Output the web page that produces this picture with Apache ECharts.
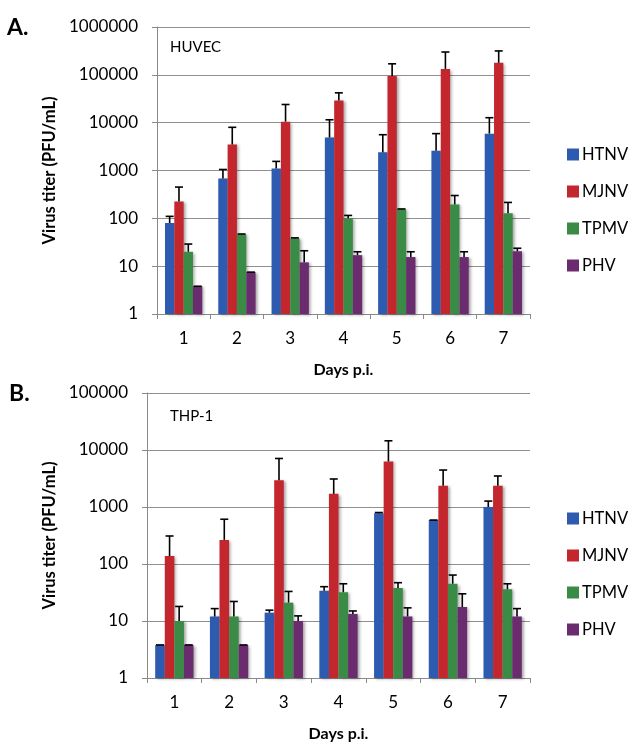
<!DOCTYPE html>
<html>
<head>
<meta charset="utf-8">
<script src="https://cdn.jsdelivr.net/npm/echarts@6/dist/echarts.min.js"></script>
<style>
html,body{margin:0;padding:0;background:#fff;}
#c{width:634px;height:755px;}
</style>
</head>
<body>
<div id="c"></div>
<script>
// ---- data ----
const days = ['1','2','3','4','5','6','7'];
const viruses = ['HTNV','MJNV','TPMV','PHV'];
const colors = ['#2C5BB0','#C4262E','#3A8B45','#6A2C6E'];

// Panel A: HUVEC
const huvecHTNV = [80, 680, 1100, 4900, 2400, 2600, 5900];
const huvecMJNV = [225, 3500, 10500, 29000, 95000, 133000, 178000];
const huvecTPMV = [20, 46, 38, 100, 155, 195, 127];
const huvecPHV  = [3.8, 7.5, 12, 17, 15.5, 15.5, 20.5];
// upper ends of error bars
const huvecHTNVUpper = [110, 1050, 1550, 11500, 5600, 5900, 12700];
const huvecMJNVUpper = [450, 8000, 24000, 42000, 170000, 300000, 316000];
const huvecTPMVUpper = [29, 47, 39, 115, 157, 300, 215];
const huvecPHVUpper  = [3.8, 7.5, 21, 20, 20, 20, 23.7];

// Panel B: THP-1
const thpHTNV = [3.8, 12, 14, 34, 780, 590, 1000];
const thpMJNV = [138, 265, 2950, 1700, 6300, 2350, 2350];
const thpTPMV = [10, 12, 21, 32, 38, 45, 36];
const thpPHV  = [3.8, 3.8, 10, 13.3, 12, 17.6, 12];
const thpHTNVUpper = [3.8, 16.5, 15.5, 40, 800, 590, 1270];
const thpMJNVUpper = [310, 610, 7100, 3100, 14500, 4450, 3500];
const thpTPMVUpper = [18, 22, 33, 45, 47, 64, 45];
const thpPHVUpper  = [3.8, 3.8, 12.3, 15, 17, 30, 16.5];

const panelA = {vals:[huvecHTNV,huvecMJNV,huvecTPMV,huvecPHV], up:[huvecHTNVUpper,huvecMJNVUpper,huvecTPMVUpper,huvecPHVUpper]};
const panelB = {vals:[thpHTNV,thpMJNV,thpTPMV,thpPHV], up:[thpHTNVUpper,thpMJNVUpper,thpTPMVUpper,thpPHVUpper]};

// ---- chart ----
const FONT = 'Lato';
const GAP = 0.30;
const chart = echarts.init(document.getElementById('c'));

function xAxis(gi){
  return {
    type:'category', gridIndex:gi, data:days, boundaryGap:true,
    axisLine:{lineStyle:{color:'#8a8a8a', width:1}},
    axisTick:{show:true, length:5, inside:false, alignWithLabel:false, lineStyle:{color:'#8a8a8a'}},
    axisLabel:{color:'#000', fontSize:17, fontFamily:FONT, margin:16},
    name:'Days p.i.', nameLocation:'middle', nameGap:48,
    nameTextStyle:{color:'#000', fontSize:16, fontWeight:'bold', fontFamily:FONT}
  };
}
function yAxis(gi, maxV, nameGap){
  return {
    type:'log', logBase:10, gridIndex:gi, min:1, max:maxV,
    axisLine:{show:true, lineStyle:{color:'#8a8a8a', width:1}},
    axisTick:{show:true, length:5, lineStyle:{color:'#8a8a8a'}},
    splitLine:{show:true, lineStyle:{color:'#8f8f8f', width:1}},
    axisLabel:{color:'#000', fontSize:17, fontFamily:FONT, margin:19,
      formatter:v=>String(Math.round(v))},
    name:'Virus titer (PFU/mL)', nameLocation:'middle', nameGap:nameGap, nameRotate:90,
    nameTextStyle:{color:'#000', fontSize:16.5, fontWeight:'bold', fontFamily:FONT}
  };
}

const series = [];
[panelA, panelB].forEach((p, gi)=>{
  viruses.forEach((v, i)=>{
    series.push({
      type:'bar', name:v, xAxisIndex:gi, yAxisIndex:gi,
      data:p.vals[i], barGap:'0%', barCategoryGap:(GAP*100)+'%',
      itemStyle:{color:colors[i], shadowBlur:3, shadowOffsetX:2, shadowOffsetY:1, shadowColor:'rgba(0,0,0,0.35)'},
      z:2
    });
  });
  viruses.forEach((v, i)=>{
    series.push({
      type:'custom', xAxisIndex:gi, yAxisIndex:gi, z:5, silent:true,
      data:p.vals[i].map((val, k)=>[k, val, p.up[i][k]]),
      encode:{x:0, y:[1,2]},
      renderItem:function(params, api){
        const k = api.value(0);
        const top = api.coord([k, api.value(1)]);
        const hi = api.coord([k, api.value(2)]);
        const band = api.size([1, 1])[0];
        const bw = band * (1 - GAP) / 4;
        const x = top[0] + (-2 + i + 0.5) * bw;
        const cap = 4;
        const st = {stroke:'#000', lineWidth:1.6};
        return {type:'group', children:[
          {type:'line', shape:{x1:x, y1:top[1], x2:x, y2:hi[1]}, style:st},
          {type:'line', shape:{x1:x-cap, y1:hi[1], x2:x+cap, y2:hi[1]}, style:st}
        ]};
      }
    });
  });
});

chart.setOption({
  animation:false,
  backgroundColor:'#fff',
  textStyle:{fontFamily:FONT},
  grid:[
    {left:157, top:27, right:104, height:287},
    {left:147, top:393, right:104, height:285}
  ],
  xAxis:[xAxis(0), xAxis(1)],
  yAxis:[yAxis(0, 1000000, 96), yAxis(1, 100000, 86)],
  legend:[
    {orient:'vertical', left:562, top:141, itemWidth:12, itemHeight:12, itemGap:20,
     data:viruses, icon:'rect', textStyle:{fontSize:16.5, color:'#000', fontFamily:FONT, padding:[0,0,0,-2]}},
    {orient:'vertical', left:562, top:505, itemWidth:12, itemHeight:12, itemGap:20,
     data:viruses, icon:'rect', textStyle:{fontSize:16.5, color:'#000', fontFamily:FONT, padding:[0,0,0,-2]}}
  ],
  graphic:[
    {type:'text', left:7, top:16, style:{text:'A.', font:'bold 23px '+FONT, fill:'#000'}},
    {type:'text', left:9, top:382, style:{text:'B.', font:'bold 23px '+FONT, fill:'#000'}},
    {type:'text', left:170, top:40, style:{text:'HUVEC', font:'15px '+FONT, fill:'#000'}},
    {type:'text', left:170, top:409, style:{text:'THP-1', font:'15px '+FONT, fill:'#000'}}
  ],
  series:series
});
</script>
</body>
</html>
